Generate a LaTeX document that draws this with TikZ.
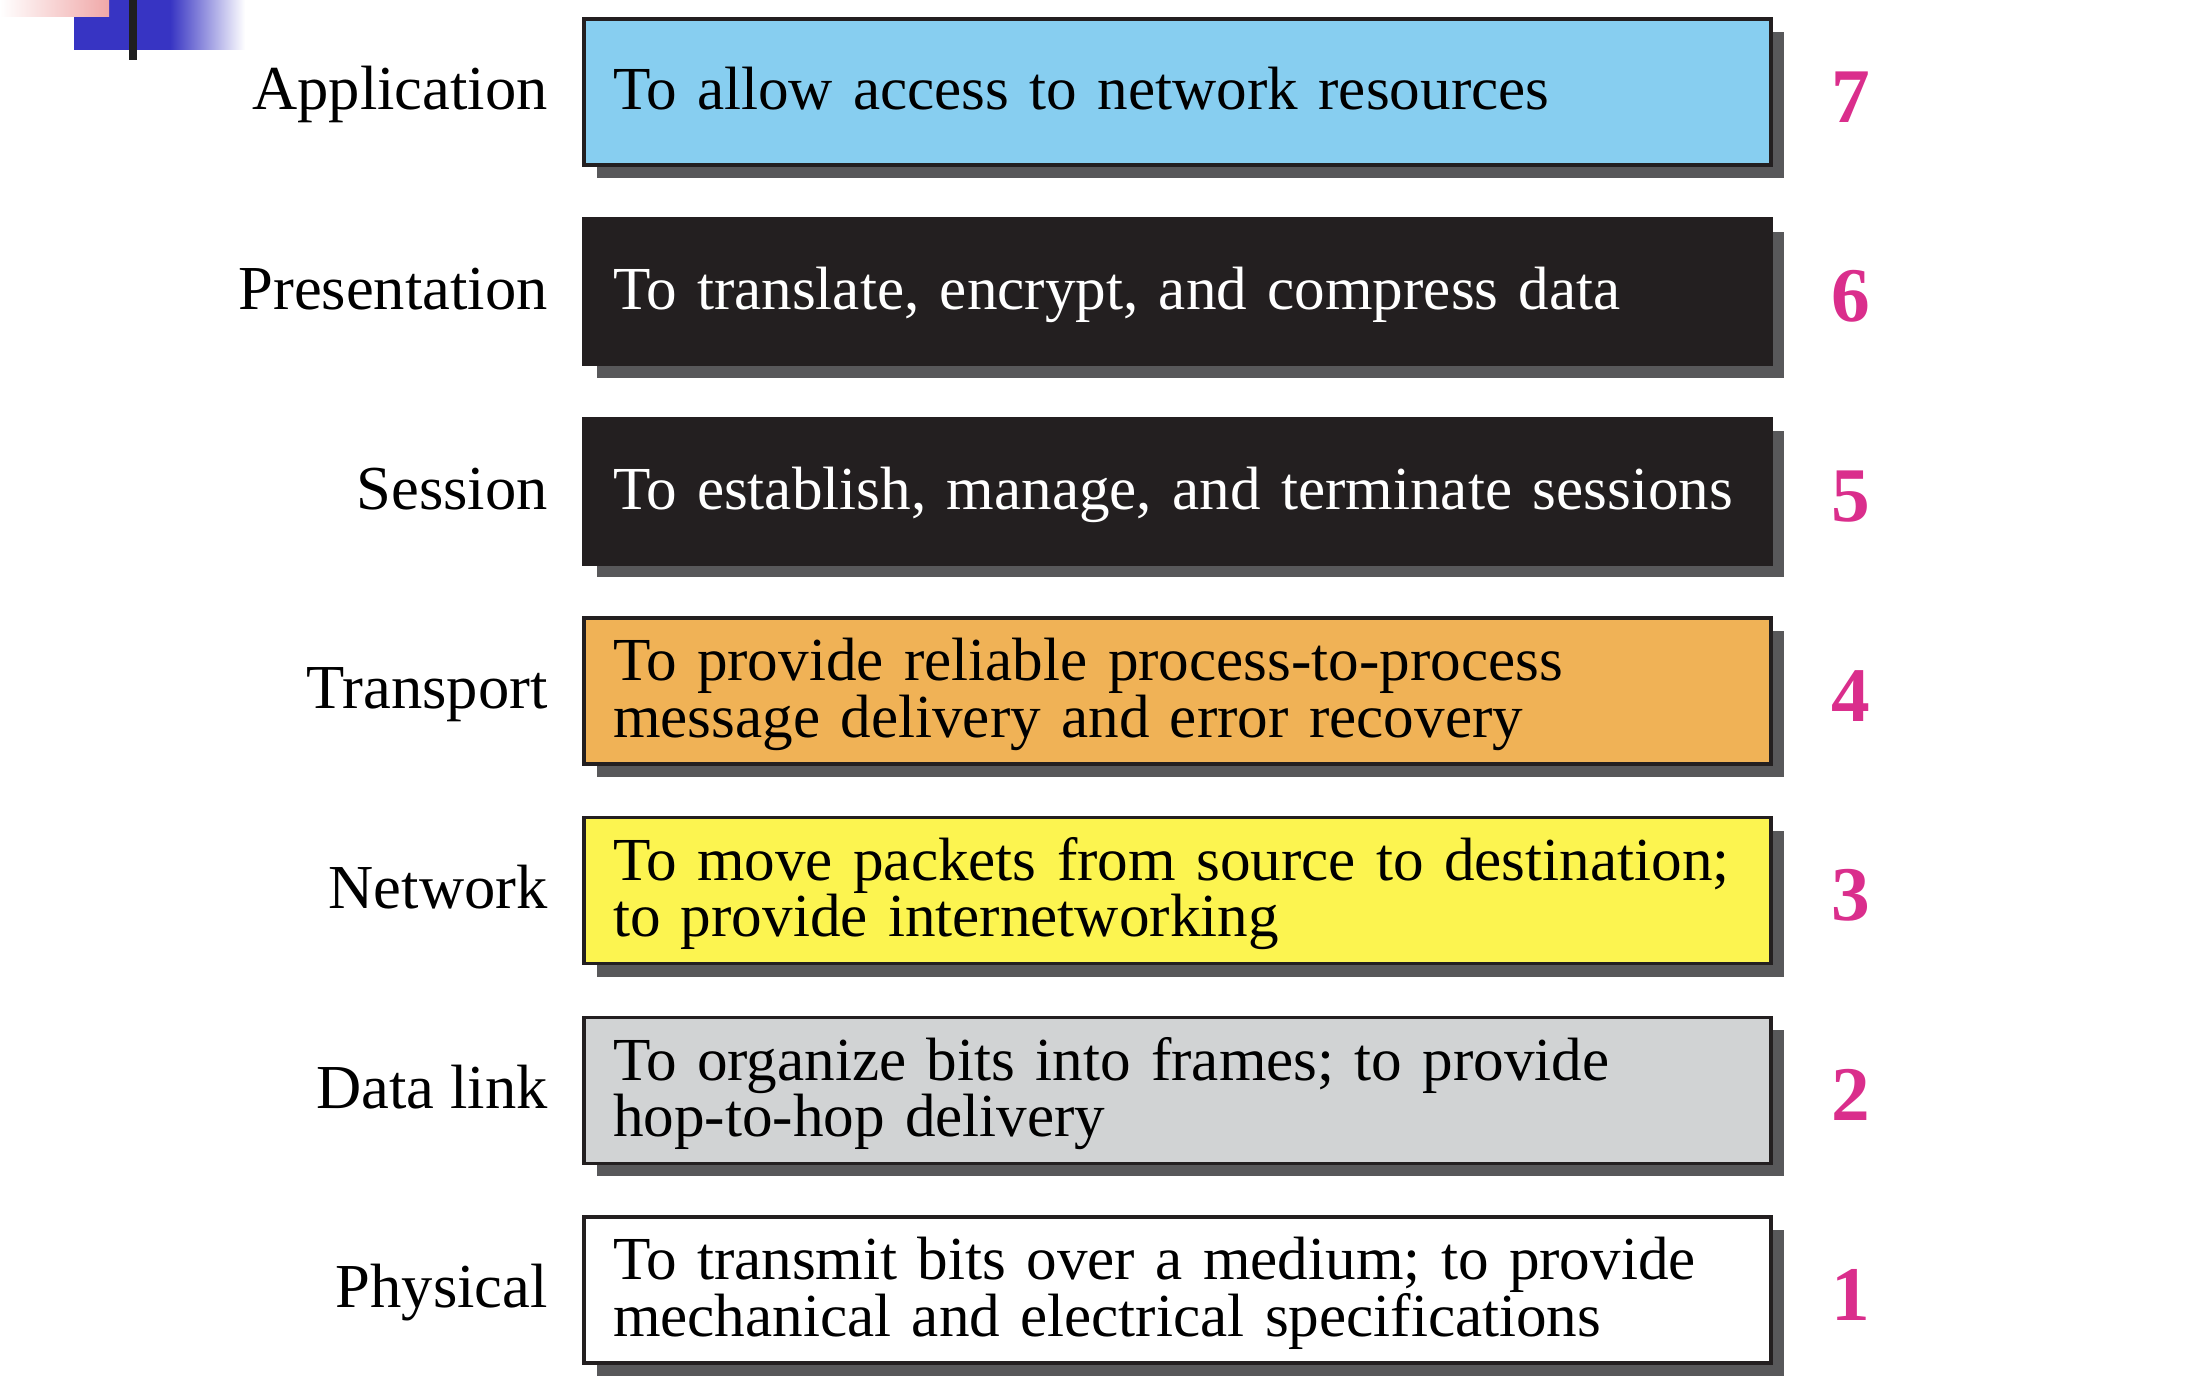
\documentclass[tikz,border=0pt]{standalone}
\usepackage{fontspec}
\setmainfont{Liberation Serif}
\usepackage{xcolor}
\usepackage{tikz}
\usetikzlibrary{positioning,shadows}

\definecolor{appblue}{RGB}{135,206,240}
\definecolor{darkbox}{RGB}{35,31,32}
\definecolor{transorange}{RGB}{240,178,86}
\definecolor{netyellow}{RGB}{252,244,80}
\definecolor{linkgray}{RGB}{209,211,212}
\definecolor{shadowgray}{RGB}{88,88,90}
\definecolor{numpink}{RGB}{218,46,140}
\definecolor{barblue}{RGB}{55,52,195}
\definecolor{barpink}{RGB}{240,168,168}

\newcommand{\boxfont}{\fontsize{17.4pt}{16pt}\selectfont\lineskiplimit=-20pt\hyphenpenalty=10000\relax}
\newcommand{\namefont}{\fontsize{17.8pt}{16pt}\selectfont}
\newcommand{\dstrut}{\vrule width 0pt height 0pt depth 4.3pt\relax}

\begin{document}
\begin{tikzpicture}[
	layerbox/.style={draw=darkbox, line width=0.9pt, minimum width=11.87cm, minimum height=1.46cm,
		text width=11.29cm, inner xsep=0.29cm, inner ysep=0pt, align=left, font=\boxfont,
		text height=14.5pt,
		general shadow={fill=shadowgray, shadow xshift=0.125cm, shadow yshift=-0.13cm}},
	layername/.style={inner sep=0pt, font=\namefont, text height=14.5pt, text depth=4.3pt},
	layernum/.style={inner sep=0pt, text=numpink, yshift=-0.05cm,
		font=\bfseries\fontsize{22pt}{22pt}\selectfont}]
	\useasboundingbox (0,0) rectangle (22.04,-13.98);

	% decorazione
	\fill[barblue] (0.74,0) rectangle (1.70,-0.50);
	\shade[left color=barblue, right color=white] (1.70,0) rectangle (2.45,-0.50);
	\shade[left color=white, right color=barpink] (0,0) rectangle (1.09,-0.17);
	\fill[black!88] (1.29,0) rectangle (1.37,-0.60);

	% livelli
	\node[layerbox, fill=appblue] (app) at (11.775,-0.92) {To allow access to network resources\dstrut};
	\node[layerbox, fill=darkbox, text=white, below=0.505cm of app] (pres) {To translate, encrypt, and compress data\dstrut};
	\node[layerbox, fill=darkbox, text=white, below=0.505cm of pres] (sess) {To establish, manage, and terminate sessions\dstrut};
	\node[layerbox, fill=transorange, below=0.505cm of sess] (trans) {To provide reliable process-to-process\\message delivery and error recovery\dstrut};
	\node[layerbox, fill=netyellow, below=0.505cm of trans] (net) {To move packets from source to destination;\\to provide internetworking\dstrut};
	\node[layerbox, fill=linkgray, below=0.505cm of net] (dlink) {To organize bits into frames; to provide\\hop-to-hop delivery\dstrut};
	\node[layerbox, fill=white, below=0.505cm of dlink] (phys) {To transmit bits over a medium; to provide\\mechanical and electrical specifications\dstrut};

	% nomi
	\node[layername, left=0.34cm of app] (appname) {Application};
	\node[layername, left=0.34cm of pres] (presname) {Presentation};
	\node[layername, left=0.34cm of sess] (sessname) {Session};
	\node[layername, left=0.34cm of trans] (transname) {Transport};
	\node[layername, left=0.34cm of net] (netname) {Network};
	\node[layername, left=0.34cm of dlink] (dlinkname) {Data link};
	\node[layername, left=0.34cm of phys] (physname) {Physical};

	% numeri
	\node[layernum, right=0.58cm of app] (appnum) {7};
	\node[layernum, right=0.58cm of pres] (presnum) {6};
	\node[layernum, right=0.58cm of sess] (sessnum) {5};
	\node[layernum, right=0.58cm of trans] (transnum) {4};
	\node[layernum, right=0.58cm of net] (netnum) {3};
	\node[layernum, right=0.58cm of dlink] (dlinknum) {2};
	\node[layernum, right=0.58cm of phys] (physnum) {1};
\end{tikzpicture}
\end{document}
